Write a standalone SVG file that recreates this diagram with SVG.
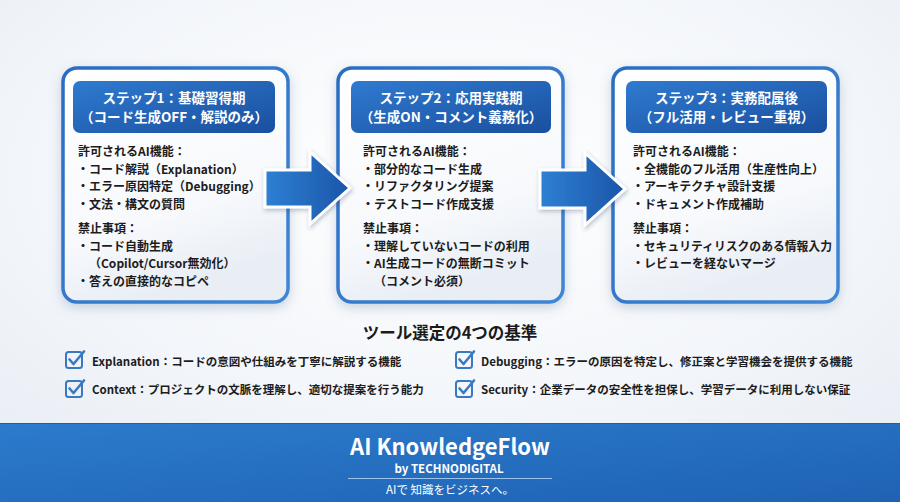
<svg xmlns="http://www.w3.org/2000/svg" width="900" height="502" viewBox="0 0 900 502">
  <defs>
    <radialGradient id="bg" cx="0.5" cy="0.35" r="0.75">
      <stop offset="0" stop-color="#ffffff"/>
      <stop offset="0.6" stop-color="#f3f6fa"/>
      <stop offset="1" stop-color="#e8edf4"/>
    </radialGradient>
    <linearGradient id="cardFill" x1="0" y1="0" x2="0.3" y2="1">
      <stop offset="0" stop-color="#ffffff"/>
      <stop offset="0.7" stop-color="#f7f9fc"/>
      <stop offset="1" stop-color="#e9eef5"/>
    </linearGradient>
    <linearGradient id="cardStroke" x1="0" y1="0" x2="1" y2="1">
      <stop offset="0" stop-color="#2a6cc2"/>
      <stop offset="1" stop-color="#3f86d6"/>
    </linearGradient>
    <linearGradient id="headFill" x1="0" y1="0" x2="1" y2="1">
      <stop offset="0" stop-color="#2f7bd0"/>
      <stop offset="1" stop-color="#1a4f9f"/>
    </linearGradient>
    <linearGradient id="arrowFill" x1="0" y1="0" x2="1" y2="0">
      <stop offset="0" stop-color="#2e80d4"/>
      <stop offset="1" stop-color="#1b55a8"/>
    </linearGradient>
    <linearGradient id="footFill" x1="0" y1="0" x2="1" y2="1">
      <stop offset="0" stop-color="#2c7bcc"/>
      <stop offset="1" stop-color="#1f62b4"/>
    </linearGradient>
    <filter id="shadow" x="-10%" y="-10%" width="120%" height="125%">
      <feDropShadow dx="0" dy="4" stdDeviation="6" flood-color="#5c7699" flood-opacity="0.3"/>
    </filter>
    <filter id="ashadow" x="-20%" y="-20%" width="140%" height="140%">
      <feDropShadow dx="1" dy="2" stdDeviation="2" flood-color="#203a60" flood-opacity="0.3"/>
    </filter>
  </defs>
  <style>
    .card { fill: url(#cardFill); stroke: url(#cardStroke); stroke-width: 3.5; filter: url(#shadow); }
    .head { fill: url(#headFill); }
    .ht { font-family: "Noto Sans CJK JP", "Noto Sans", sans-serif; font-size: 13.5px; font-weight: 700; fill: #ffffff; text-anchor: middle; }
    .bt { font-family: "Noto Sans CJK JP", "Noto Sans", sans-serif; font-size: 12px; font-weight: 700; fill: #1c1c1c; }
    .ct { font-family: "Noto Sans CJK JP", "Noto Sans", sans-serif; font-size: 11.5px; font-weight: 700; fill: #1c1c1c; }
    .title { font-family: "Noto Sans CJK JP", "Noto Sans", sans-serif; font-size: 16.5px; font-weight: 700; fill: #1a1a1a; text-anchor: middle; }
    .arrow { fill: url(#arrowFill); stroke: #ffffff; stroke-width: 3; stroke-linejoin: miter; filter: url(#ashadow); }
    .chkbox { fill: none; stroke: #3a78c2; stroke-width: 2; }
    .chk { fill: none; stroke: #3a78c2; stroke-width: 2.6; stroke-linecap: round; stroke-linejoin: round; }
    .ft { font-family: "Noto Sans CJK JP", "Noto Sans", sans-serif; fill: #ffffff; text-anchor: middle; }
  </style>

  <rect x="0" y="0" width="900" height="502" fill="url(#bg)"/>

  <g id="step1">
    <rect class="card" x="63" y="68" width="225" height="234" rx="14"/>
    <rect class="head" x="73" y="81" width="202" height="52" rx="7"/>
    <text class="ht" x="174" y="103">ステップ1：基礎習得期</text>
    <text class="ht" x="174" y="122">（コード生成OFF・解説のみ）</text>
    <text class="bt" x="78" y="156">許可されるAI機能：</text>
    <text class="bt" x="77" y="173.5">・コード解説（Explanation）</text>
    <text class="bt" x="77" y="191">・エラー原因特定（Debugging）</text>
    <text class="bt" x="77" y="208.5">・文法・構文の質問</text>
    <text class="bt" x="78" y="233">禁止事項：</text>
    <text class="bt" x="77" y="250.5">・コード自動生成</text>
    <text class="bt" x="89" y="268">（Copilot/Cursor無効化）</text>
    <text class="bt" x="77" y="285.5">・答えの直接的なコピペ</text>
  </g>

  <g id="step2">
    <rect class="card" x="338" y="68" width="225" height="234" rx="14"/>
    <rect class="head" x="351" y="81" width="200" height="52" rx="7"/>
    <text class="ht" x="451" y="103">ステップ2：応用実践期</text>
    <text class="ht" x="451" y="122">（生成ON・コメント義務化）</text>
    <text class="bt" x="363" y="156">許可されるAI機能：</text>
    <text class="bt" x="362" y="173.5">・部分的なコード生成</text>
    <text class="bt" x="362" y="191">・リファクタリング提案</text>
    <text class="bt" x="362" y="208.5">・テストコード作成支援</text>
    <text class="bt" x="363" y="233">禁止事項：</text>
    <text class="bt" x="362" y="250.5">・理解していないコードの利用</text>
    <text class="bt" x="362" y="268">・AI生成コードの無断コミット</text>
    <text class="bt" x="374" y="285.5">（コメント必須）</text>
  </g>

  <g id="step3">
    <rect class="card" x="613" y="68" width="225" height="234" rx="14"/>
    <rect class="head" x="626" y="81" width="201" height="52" rx="7"/>
    <text class="ht" x="726.5" y="103">ステップ3：実務配属後</text>
    <text class="ht" x="726.5" y="122">（フル活用・レビュー重視）</text>
    <text class="bt" x="633" y="156">許可されるAI機能：</text>
    <text class="bt" x="632" y="173.5">・全機能のフル活用（生産性向上）</text>
    <text class="bt" x="632" y="191">・アーキテクチャ設計支援</text>
    <text class="bt" x="632" y="208.5">・ドキュメント作成補助</text>
    <text class="bt" x="633" y="233">禁止事項：</text>
    <text class="bt" x="632" y="250.5" textLength="200" lengthAdjust="spacingAndGlyphs">・セキュリティリスクのある情報入力</text>
    <text class="bt" x="632" y="268">・レビューを経ないマージ</text>
  </g>

  <g id="connectors">
    <polygon class="arrow" points="265,170 310,170 310,152 350,188 310,224 310,207 265,207"/>
    <polygon class="arrow" points="540,170 585,170 585,153 625,189 585,225 585,208 540,208"/>
  </g>

  <g id="criteria">
    <text class="title" x="450" y="339">ツール選定の4つの基準</text>
    <g id="crit-explanation">
      <rect class="chkbox" x="66" y="352" width="16" height="16" rx="2.5"/>
      <path class="chk" d="M69.5,359.5 L73.5,364 L84,351.5"/>
      <text class="ct" x="92" y="366">Explanation：コードの意図や仕組みを丁寧に解説する機能</text>
    </g>
    <g id="crit-context">
      <rect class="chkbox" x="66" y="381" width="16" height="16" rx="2.5"/>
      <path class="chk" d="M69.5,388.5 L73.5,393 L84,380.5"/>
      <text class="ct" x="92" y="394">Context：プロジェクトの文脈を理解し、適切な提案を行う能力</text>
    </g>
    <g id="crit-debugging">
      <rect class="chkbox" x="456" y="352" width="16" height="16" rx="2.5"/>
      <path class="chk" d="M459.5,359.5 L463.5,364 L474,351.5"/>
      <text class="ct" x="481" y="366">Debugging：エラーの原因を特定し、修正案と学習機会を提供する機能</text>
    </g>
    <g id="crit-security">
      <rect class="chkbox" x="456" y="381" width="16" height="16" rx="2.5"/>
      <path class="chk" d="M459.5,388.5 L463.5,393 L474,380.5"/>
      <text class="ct" x="481" y="394">Security：企業データの安全性を担保し、学習データに利用しない保証</text>
    </g>
  </g>

  <g id="footer">
    <rect x="0" y="423" width="900" height="79" fill="url(#footFill)"/>
    <line x1="0" y1="423.5" x2="900" y2="423.5" stroke="#1f5ea8" stroke-width="1"/>
    <text class="ft" x="450" y="455" font-size="22" font-weight="700">AI KnowledgeFlow</text>
    <text class="ft" x="449" y="473" font-size="11.5" font-weight="700">by TECHNODIGITAL</text>
    <line x1="348" y1="478.5" x2="552" y2="478.5" stroke="#9cc3ec" stroke-width="1"/>
    <text class="ft" x="450" y="494" font-size="11.5" fill="#e6f0fb">AIで 知識をビジネスへ。</text>
  </g>
</svg>
